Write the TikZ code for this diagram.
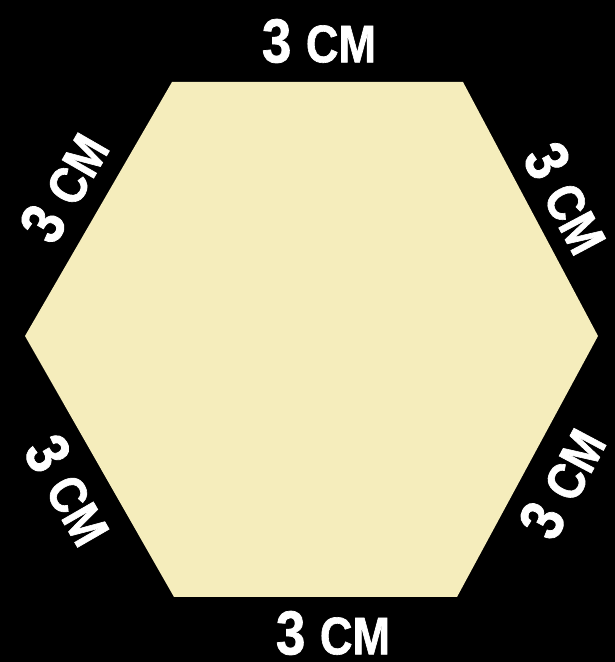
\documentclass[tikz,border=0pt]{standalone}
\usepackage{fontspec}
\setmainfont{Liberation Sans}[FakeStretch = 0.85, FakeBold = 1.2]
\definecolor{cream}{RGB}{245,237,188}
\newcommand{\sidelen}{3 {\fontsize{53}{53}\selectfont CM}}

\begin{document}
\begin{tikzpicture}[
        x = 1pt, y = 1pt,
        plate/.style = {fill = cream, draw = none},
        side/.style = {text = white, inner sep = 0pt, font = \bfseries\fontsize{62}{62}\selectfont}
    ]

    \fill[black] (0,0) rectangle (615,662);
    \useasboundingbox (0,0) rectangle (615,662);

    \coordinate (tl) at (172,580);
    \coordinate (tr) at (463,580);
    \coordinate (r)  at (598,326);
    \coordinate (br) at (457,65);
    \coordinate (bl) at (174,65);
    \coordinate (l)  at (25,326);

    \fill[plate] (tl) -- (tr) -- (r) -- (br) -- (bl) -- (l) -- cycle;

    \node[side] (top)    at (319,621) {\sidelen};
    \node[side] (bottom) at (333,29) {\sidelen};
    \node[side, rotate = 60]  (upleft)  at (64,475) {\sidelen};
    \node[side, rotate = -62] (upright) at (567,464) {\sidelen};
    \node[side, rotate = -60] (lowleft)  at (69,172) {\sidelen};
    \node[side, rotate = 62]  (lowright) at (562,179) {\sidelen};

\end{tikzpicture}
\end{document}
